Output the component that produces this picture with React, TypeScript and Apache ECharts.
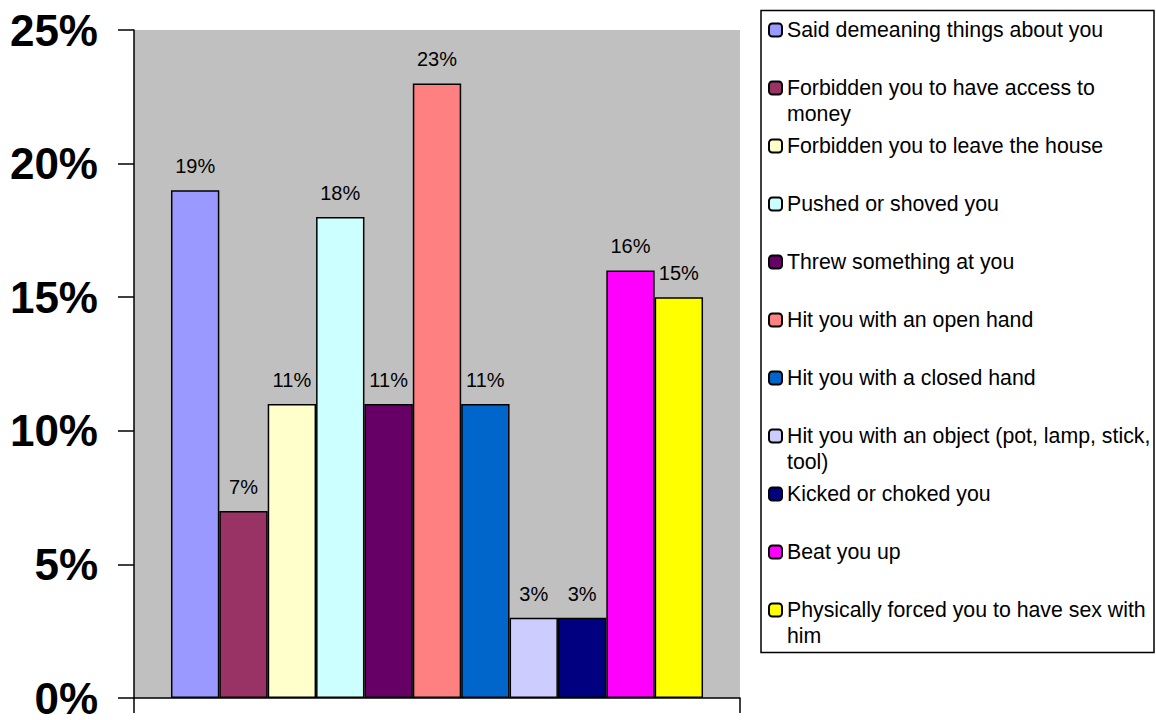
import React, { useEffect, useRef } from "react";
import * as echarts from "echarts";

const categories = ["Said demeaning things about you", "Forbidden you to have access to money", "Forbidden you to leave the house", "Pushed or shoved you", "Threw something at you", "Hit you with an open hand", "Hit you with a closed hand", "Hit you with an object (pot, lamp, stick, tool)", "Kicked or choked you", "Beat you up", "Physically forced you to have sex with him"];
const legendLabels = ["Said demeaning things about you", "Forbidden you to have access to\nmoney", "Forbidden you to leave the house", "Pushed or shoved you", "Threw something at you", "Hit you with an open hand", "Hit you with a closed hand", "Hit you with an object (pot, lamp, stick,\ntool)", "Kicked or choked you", "Beat you up", "Physically forced you to have sex with\nhim"];
const values = [19, 7, 11, 18, 11, 23, 11, 3, 3, 16, 15];
const colors = ["#9999FF", "#993366", "#FFFFCC", "#CCFFFF", "#660066", "#FF8080", "#0066CC", "#CCCCFF", "#000080", "#FF00FF", "#FFFF00"];
const yTicks = [0, 5, 10, 15, 20, 25];

const FONT = "Liberation Sans, Arial, sans-serif";

export default function App() {
  const ref = useRef<HTMLDivElement>(null);
  useEffect(() => {
    if (!ref.current) return;
    const chart = echarts.init(ref.current, null, { renderer: "svg" });
    const legendTop0 = 30;
    const legendStep = 58;
    const legends = categories.map((name, i) => {
      const twoLine = legendLabels[i].includes("\n");
      const c = legendTop0 + legendStep * i;
      return {
        data: [name],
        orient: "vertical",
        left: 768,
        top: twoLine ? c - 39 : c - 13,
        padding: 0,
        itemWidth: 13,
        itemHeight: 13,
        selectedMode: false,
        formatter: () => (twoLine ? "\u00a0\n" + legendLabels[i] : legendLabels[i]),
        itemStyle: { borderColor: "#000", borderWidth: 2 },
        textStyle: {
          fontFamily: FONT,
          fontSize: 21.3,
          lineHeight: 26,
          color: "#000",
        },
      };
    });
    chart.setOption({
      animation: false,
      backgroundColor: "#fff",
      grid: {
        left: 134,
        right: 416,
        top: 30,
        bottom: 18,
        show: true,
        backgroundColor: "#C0C0C0",
        borderWidth: 0,
      },
      graphic: [
        {
          type: "rect",
          z: -1,
          shape: { x: 761, y: 10.5, width: 393, height: 642 },
          style: { fill: "#fff", stroke: "#000", lineWidth: 1.5 },
        },
      ],
      legend: legends,
      xAxis: {
        type: "category",
        data: [""],
        axisLine: { show: true, lineStyle: { color: "#000", width: 1.5 } },
        axisTick: { show: true, length: 15, lineStyle: { color: "#000", width: 1.5 } },
        axisLabel: { show: false },
        splitLine: { show: false },
      },
      yAxis: {
        type: "value",
        min: yTicks[0],
        max: yTicks[yTicks.length - 1],
        interval: 5,
        axisLine: { show: true, lineStyle: { color: "#000", width: 1.5 } },
        axisTick: { show: true, length: 16, lineStyle: { color: "#000", width: 1.5 } },
        splitLine: { show: false },
        axisLabel: {
          formatter: "{value}%",
          fontFamily: FONT,
          fontSize: 44,
          lineHeight: 34,
          fontWeight: "bold",
          color: "#000",
          margin: 36,
        },
      },
      series: categories.map((name, i) => ({
        type: "bar",
        name,
        data: [values[i]],
        barGap: "0%",
        barCategoryGap: "12.2%",
        itemStyle: { color: colors[i], borderColor: "#000", borderWidth: 1.5 },
        label: {
          show: true,
          position: "top",
          distance: 14,
          formatter: "{c}%",
          fontFamily: FONT,
          fontSize: 20,
          color: "#000",
        },
      })),
    });
    return () => chart.dispose();
  }, []);
  return (
    <div
      ref={ref}
      style={{ position: "absolute", left: 0, top: 0, width: 1156, height: 720 }}
    />
  );
}
